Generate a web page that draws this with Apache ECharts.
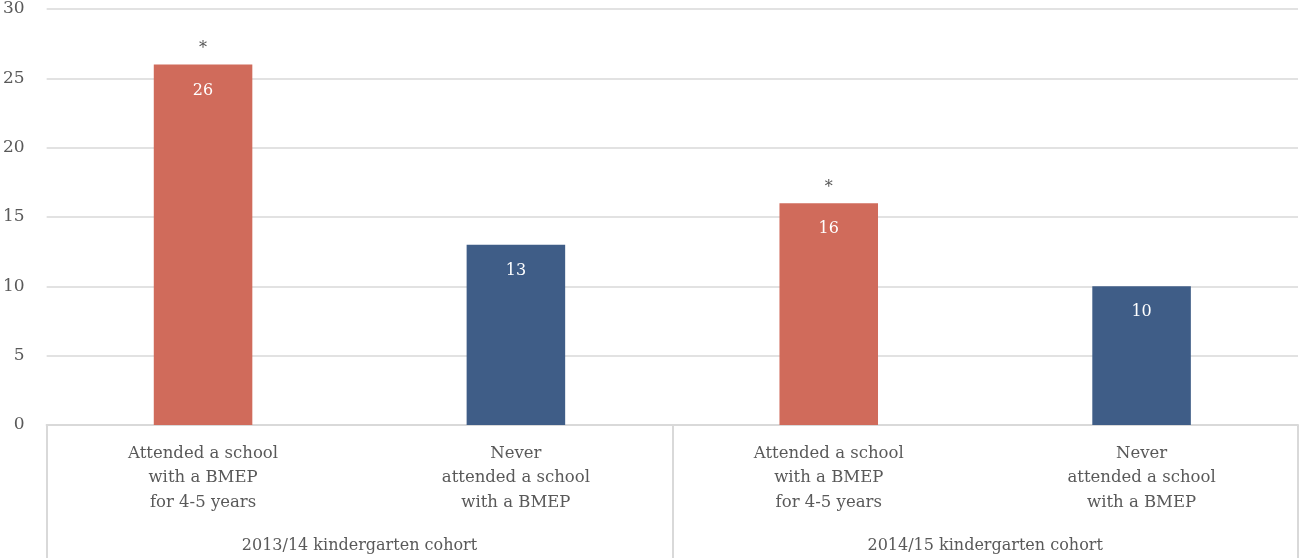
<!DOCTYPE html>
<html>
<head>
<meta charset="utf-8">
<script src="https://cdn.jsdelivr.net/npm/echarts@6/dist/echarts.min.js"></script>
<style>
  html, body { margin: 0; padding: 0; background: #ffffff; }
  #chart { width: 1299px; height: 558px; }
</style>
</head>
<body>
<div id="chart"></div>
<script>
// Categories: one bar per group/exposure combination
const categories = [
  'Attended a school\nwith a BMEP\nfor 4-5 years',
  'Never\nattended a school\nwith a BMEP',
  'Attended a school\nwith a BMEP\nfor 4-5 years',
  'Never\nattended a school\nwith a BMEP'
];
const cohorts = ['2013/14 kindergarten cohort', '2014/15 kindergarten cohort'];
const values = [26, 13, 16, 10];
const significant = [true, false, true, false];
const yTicks = { min: 0, max: 30, interval: 5 };

const ORANGE = '#D06B5B';
const BLUE = '#3F5D87';
const GRID = '#D9D9D9';
const TEXT = '#595959';
const FONT = 'DejaVu Serif';

const barColors = values.map((v, i) => (i % 2 === 0 ? ORANGE : BLUE));

const chart = echarts.init(document.getElementById('chart'), null, { renderer: 'canvas' });

chart.setOption({
  animation: false,
  textStyle: { fontFamily: FONT },
  grid: { left: 44, right: 1, top: 9, bottom: 133, containLabel: false },
  xAxis: [
    {
      type: 'category',
      data: categories,
      position: 'bottom',
      axisLine: { show: true, lineStyle: { color: GRID, width: 2 } },
      axisTick: { show: false },
      axisLabel: {
        color: TEXT, fontFamily: FONT, fontSize: 16.5, lineHeight: 24.5,
        margin: 16, interval: 0, align: 'center'
      }
    },
    {
      type: 'category',
      data: cohorts,
      position: 'bottom',
      axisLine: { show: false },
      axisTick: { show: true, length: 135, lineStyle: { color: GRID, width: 2 } },
      axisLabel: { color: TEXT, fontFamily: FONT, fontSize: 16, margin: 113, interval: 0 }
    }
  ],
  yAxis: {
    type: 'value',
    min: yTicks.min, max: yTicks.max, interval: yTicks.interval,
    axisLine: { show: false },
    axisTick: { show: false },
    axisLabel: { color: TEXT, fontFamily: FONT, fontSize: 17, margin: 22 },
    splitLine: { lineStyle: { color: GRID, width: 1.5 } }
  },
  series: [
    {
      type: 'bar',
      xAxisIndex: 0,
      barWidth: '31.5%',
      data: values.map((v, i) => ({ value: v, itemStyle: { color: barColors[i] } })),
      label: {
        show: true, position: 'insideTop', distance: 18,
        color: '#ffffff', fontFamily: FONT, fontSize: 16
      }
    },
    {
      // significance markers above flagged bars
      type: 'scatter',
      xAxisIndex: 0,
      symbolSize: 1,
      itemStyle: { color: 'rgba(0,0,0,0)' },
      data: values.map((v, i) => (significant[i] ? v : '-')),
      label: {
        show: true, position: 'top', distance: 7,
        formatter: '*', color: '#262626', fontFamily: FONT, fontSize: 16
      },
      z: 5
    }
  ]
});
</script>
</body>
</html>
